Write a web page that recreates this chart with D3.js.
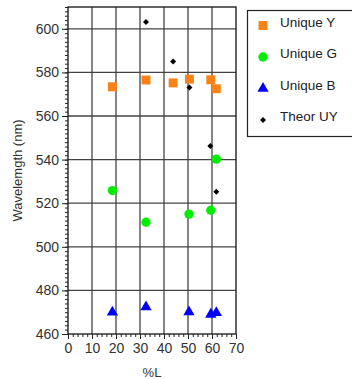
<!DOCTYPE html>
<html><head><meta charset="utf-8">
<script src="https://cdn.jsdelivr.net/npm/d3@7"></script>
<style>body{margin:0;background:#fff}svg{display:block}text{font-family:"Liberation Sans",Arial,sans-serif}</style>
</head><body>
<svg id="c" width="352" height="379"></svg>
<script>
const uniqueY_L = [18.5, 32.5, 43.8, 50.6, 59.5, 61.8];
const uniqueY_W = [573.4, 576.5, 575.2, 576.9, 576.6, 572.5];
const uniqueG_L = [18.5, 32.5, 50.4, 59.5, 61.8];
const uniqueG_W = [525.8, 511.3, 515.0, 516.8, 540.2];
const uniqueB_L = [18.5, 32.5, 50.4, 59.5, 61.8];
const uniqueB_W = [470.0, 472.4, 470.1, 469.0, 469.8];
const theorUY_L = [32.5, 43.8, 50.6, 59.3, 61.8];
const theorUY_W = [603.1, 585.0, 573.1, 546.2, 525.2];
const xTicks = [0, 10, 20, 30, 40, 50, 60, 70];
const yTicks = [460, 480, 500, 520, 540, 560, 580, 600];
const legendLabels = ["Unique Y", "Unique G", "Unique B", "Theor UY"];

const svg = d3.select("#c");
const L = 68, R = 236, T = 7, B = 334;
const x = d3.scaleLinear().domain([0, 70]).range([L, R]);
const y = d3.scaleLinear().domain([460, 610]).range([B, T]);

// grid
const g = svg.append("g");
g.selectAll(".vg").data(xTicks.slice(1, -1)).join("line")
  .attr("x1", d => x(d)).attr("x2", d => x(d)).attr("y1", T).attr("y2", B)
  .attr("stroke", "#444").attr("stroke-width", 1.3);
g.selectAll(".hg").data(yTicks.slice(1)).join("line")
  .attr("x1", L).attr("x2", R).attr("y1", d => y(d)).attr("y2", d => y(d))
  .attr("stroke", "#444").attr("stroke-width", 1.3);
svg.append("rect").attr("x", L).attr("y", T).attr("width", R - L).attr("height", B - T)
  .attr("fill", "none").attr("stroke", "#111").attr("stroke-width", 1.3);

// axes
const yMinor = d3.range(460, 611, 2);
const xMinor = d3.range(0, 71, 2);
const yAx = svg.append("g").attr("transform", `translate(${L},0)`)
  .call(d3.axisLeft(y).tickValues(yMinor).tickSize(3).tickFormat(""));
yAx.select(".domain").remove();
const yAx2 = svg.append("g").attr("transform", `translate(${L},0)`)
  .call(d3.axisLeft(y).tickValues(yTicks).tickSize(6).tickPadding(3));
yAx2.select(".domain").remove();
yAx2.selectAll("text").attr("font-size", 14).attr("fill", "#333");
const xAx = svg.append("g").attr("transform", `translate(0,${B})`)
  .call(d3.axisBottom(x).tickValues(xMinor).tickSize(3).tickFormat(""));
xAx.select(".domain").remove();
const xAx2 = svg.append("g").attr("transform", `translate(0,${B})`)
  .call(d3.axisBottom(x).tickValues(xTicks).tickSize(5).tickPadding(4));
xAx2.select(".domain").remove();
xAx2.selectAll("text").attr("font-size", 14).attr("fill", "#333");
svg.selectAll(".tick line").attr("stroke", "#222");

svg.append("text").attr("x", x(35)).attr("y", 377).attr("text-anchor", "middle")
  .attr("font-size", 13).attr("fill", "#333").text("%L");
svg.append("text").attr("transform", `translate(22,${(T + B) / 2}) rotate(-90)`)
  .attr("text-anchor", "middle").attr("font-size", 13).attr("fill", "#333").text("Wavelemgth (nm)");

// symbols
const sq = d3.symbol().type(d3.symbolSquare).size(80);
const ci = d3.symbol().type(d3.symbolCircle).size(68);
const tr = d3.symbol().type(d3.symbolTriangle).size(55);
const di = d3.symbol().type(d3.symbolSquare).size(18);
const series = [
  {L: uniqueY_L, W: uniqueY_W, sym: sq, color: "#f98218", rot: 0},
  {L: uniqueG_L, W: uniqueG_W, sym: ci, color: "#00ee00", rot: 0},
  {L: uniqueB_L, W: uniqueB_W, sym: tr, color: "#0000ff", rot: 0},
  {L: theorUY_L, W: theorUY_W, sym: di, color: "#000000", rot: 45}
];
series.forEach(s => {
  svg.append("g").selectAll("path").data(s.L.map((l, i) => [l, s.W[i]])).join("path")
    .attr("d", s.sym).attr("fill", s.color)
    .attr("transform", d => `translate(${x(d[0])},${y(d[1])}) rotate(${s.rot})`);
});

// legend
svg.append("rect").attr("x", 247.5).attr("y", 10.5).attr("width", 110).attr("height", 126)
  .attr("fill", "#fff").attr("stroke", "#222").attr("stroke-width", 1.2);
legendLabels.forEach((lab, i) => {
  const cy = 25.5 + i * 31.5;
  svg.append("path").attr("d", series[i].sym).attr("fill", series[i].color)
    .attr("transform", `translate(263,${cy}) rotate(${series[i].rot})`);
  svg.append("text").attr("x", 280).attr("y", cy + 1).attr("font-size", 13.5)
    .attr("fill", "#222").text(lab);
});
</script>
</body></html>
